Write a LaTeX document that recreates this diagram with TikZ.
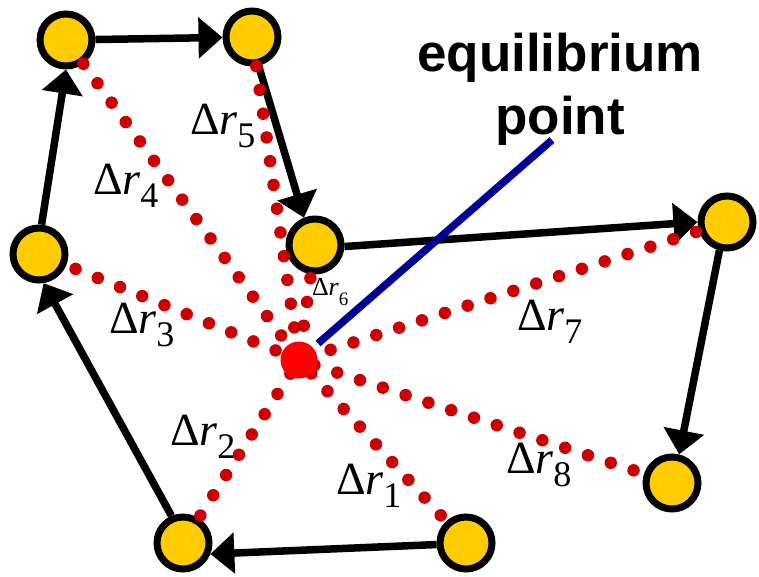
\documentclass[tikz,border=0pt]{standalone}
\usepackage{fontspec}
\setmainfont{Liberation Serif}
\newfontfamily\lserif{Liberation Serif}
\newfontfamily\lsans{Liberation Sans}
\usetikzlibrary{arrows.meta}
\definecolor{nodeyellow}{HTML}{FFCC00}
\definecolor{dotred}{HTML}{CC0000}
\definecolor{eqred}{HTML}{FF0000}
\definecolor{eqblue}{HTML}{000099}
\newcommand{\DeltaR}[4]{{\lserif\fontsize{#1}{#1}\selectfont Δ{\itshape r}\raisebox{-#3pt}{\fontsize{#2}{#2}\selectfont #4}}}
\begin{document}
\begin{tikzpicture}[x=1pt,y=-1pt,
  state/.style={circle, draw=black, line width=7pt, fill=nodeyellow, minimum size=52pt, inner sep=0pt},
  flow/.style={line width=7.5pt, -{Triangle[length=24pt,width=40pt]}},
  dotline/.style={draw=dotred, line width=12.5pt, line cap=round, dash pattern=on 0pt off 24pt},
  blueline/.style={draw=eqblue, line width=7.5pt},
  lbl/.style={anchor=base west, inner sep=0pt, outer sep=0pt},
  eqtext/.style={anchor=base, inner sep=0pt, font={\lsans\bfseries\fontsize{53}{60}\selectfont}}]
\useasboundingbox (0,0) rectangle (759,577);

% states
\node[state] (A) at (66,40) {};
\node[state] (B) at (252,37) {};
\node[state] (C) at (315,245) {};
\node[state] (D) at (39,254) {};
\node[state] (E) at (727,222) {};
\node[state] (F) at (672,483) {};
\node[state] (G) at (466,543) {};
\node[state] (H) at (183,543) {};

% trajectory arrows
\draw[flow] (A) -- (B);
\draw[flow] (B.-77) -- (C.112);
\draw[flow] (C.-3) -- (E.180);
\draw[flow] (E.-105) -- (F.76);
\draw[flow] (G.183) -- (H.-22);
\draw[flow] (H.113) -- (D.-81);
\draw[flow] (D.85) -- (A.270);

% equilibrium centre
\coordinate (Oc) at (299,360);

% displacement lines
\draw[dotline] (A) -- (Oc);
\draw[dotline] (B) -- (Oc);
\draw[dotline, shorten <=4pt] (C) -- (Oc);
\draw[dotline, shorten <=10pt] (D) -- (Oc);
\draw[dotline, shorten <=3pt] (E) -- (Oc);
\draw[dotline, shorten <=11pt] (F) -- (Oc);
\draw[dotline, shorten <=8pt] (G) -- (Oc);
\draw[dotline, shorten <=3pt] (H) -- (Oc);

\node[circle, fill=eqred, minimum size=37pt, inner sep=0pt] (O) at (Oc) {};

% pointer
\coordinate (blueend) at (552,140);
\draw[blueline, shorten <=6.5pt] (O) -- (blueend);

% text
\node[eqtext] (eq1) at (560,72) {equilibrium};
\node[eqtext] (eq2) at (560,135) {point};

\node[lbl] (l1) at (336,494) {\DeltaR{46}{36}{13}{1}};
\node[lbl] (l2) at (170,445) {\DeltaR{46}{36}{13}{2}};
\node[lbl] (l3) at (109,333) {\DeltaR{46}{36}{13}{3}};
\node[lbl] (l4) at (93,195) {\DeltaR{46}{36}{13}{4}};
\node[lbl] (l5) at (190,135) {\DeltaR{46}{36}{13}{5}};
\node[lbl] (l6) at (312,295) {\DeltaR{26}{19}{10}{6}};
\node[lbl] (l7) at (517,330) {\DeltaR{46}{36}{13}{7}};
\node[lbl] (l8) at (506,473) {\DeltaR{46}{36}{13}{8}};
\end{tikzpicture}
\end{document}
